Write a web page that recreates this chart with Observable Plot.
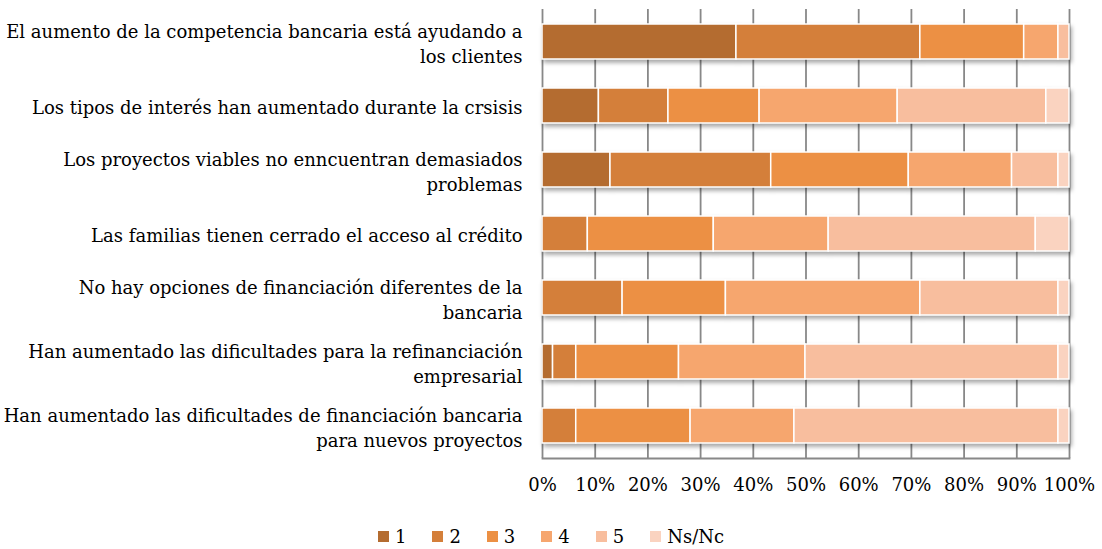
<!DOCTYPE html>
<html>
<head>
<meta charset="utf-8">
<script src="https://cdn.jsdelivr.net/npm/d3@7"></script>
<script src="https://cdn.jsdelivr.net/npm/@observablehq/plot@0.6"></script>
<style>
  html, body { margin: 0; padding: 0; background: #fff; }
  #chart svg { display: block; }
  #legend { margin-top: 20px; }
  #legend .lg-swatches { justify-content: center; font-family: "DejaVu Serif", serif !important; font-size: 18px !important; color: #000; }
  #legend .lg-swatch { margin-right: 26px !important; }
  #legend .lg-swatch:last-child { margin-right: 0 !important; }
  #legend .lg-swatch svg { margin-right: 6px !important; }
</style>
</head>
<body>
<div id="chart"></div>
<div id="legend"></div>
<script>
const categories = [
  "El aumento de la competencia bancaria está ayudando a los clientes",
  "Los tipos de interés han aumentado durante la crsisis",
  "Los proyectos viables no enncuentran demasiados problemas",
  "Las familias tienen cerrado el acceso al crédito",
  "No hay opciones de financiación diferentes de la bancaria",
  "Han aumentado las dificultades para la refinanciación empresarial",
  "Han aumentado las dificultades de financiación bancaria para nuevos proyectos"
];
const tickLabels = [
  "El aumento de la competencia bancaria está ayudando a\nlos clientes",
  "Los tipos de interés han aumentado durante la crsisis",
  "Los proyectos viables no enncuentran demasiados\nproblemas",
  "Las familias tienen cerrado el acceso al crédito",
  "No hay opciones de financiación diferentes de la\nbancaria",
  "Han aumentado las dificultades para la refinanciación\nempresarial",
  "Han aumentado las dificultades de financiación bancaria\npara nuevos proyectos"
];
const seriesNames = ["1", "2", "3", "4", "5", "Ns/Nc"];
const s1  = [36.8, 10.7, 12.9, 0,    0,    2.0,  0];
const s2  = [34.9, 13.2, 30.5, 8.6,  15.2, 4.4,  6.4];
const s3  = [19.7, 17.3, 26.1, 23.9, 19.6, 19.5, 21.7];
const s4  = [6.5,  26.2, 19.6, 21.8, 36.9, 24.0, 19.7];
const s5  = [2.1,  28.2, 8.8,  39.3, 26.2, 48.0, 50.1];
const sNs = [0,    4.4,  2.1,  6.4,  2.1,  2.1,  2.1];
const xTicks = [0, 10, 20, 30, 40, 50, 60, 70, 80, 90, 100];
const colors = ["#b46c30", "#d47f3a", "#ec9044", "#f6a66e", "#f8be9e", "#fad3c0"];

const seriesValues = [s1, s2, s3, s4, s5, sNs];
const data = [];
categories.forEach((c, i) => {
  seriesNames.forEach((s, j) => {
    data.push({category: c, series: s, value: seriesValues[j][i]});
  });
});

const chart = Plot.plot({
  width: 1102,
  height: 500,
  marginLeft: 542,
  marginRight: 33,
  marginTop: 9,
  marginBottom: 42,
  style: {fontFamily: "DejaVu Serif, serif", fontSize: "18px", color: "#000", background: "#fff"},
  x: {domain: [0, 100], label: null},
  y: {domain: categories, paddingInner: 0.45, paddingOuter: 0.225, label: null},
  color: {domain: seriesNames, range: colors, type: "ordinal"},
  marks: [
    Plot.gridX(xTicks, {stroke: "#888", strokeOpacity: 1, strokeWidth: 1.8}),
    Plot.frame({anchor: "bottom", stroke: "#888", strokeWidth: 1.8}),
    Plot.barX(data.filter(d => d.value > 0), Plot.stackX({
      x: "value", y: "category", fill: "series", order: seriesNames,
      stroke: "#fff", strokeWidth: 1.5
    })),
    Plot.axisX(xTicks, {tickSize: 0, tickPadding: 20, tickFormat: d => d + "%", fontSize: 18}),
    Plot.axisY({tickSize: 0, tickPadding: 20, fontSize: 18, lineHeight: 1.39,
      tickFormat: d => tickLabels[categories.indexOf(d)]})
  ]
});
document.getElementById("chart").appendChild(chart);
chart.querySelectorAll('g[aria-label="bar"]').forEach(g => {
  g.style.filter = "drop-shadow(2px 3px 2px rgba(0,0,0,0.35))";
});

const legend = Plot.legend({
  color: {domain: seriesNames, range: colors, type: "ordinal"},
  swatchSize: 11,
  className: "lg"
});
document.getElementById("legend").appendChild(legend);
</script>
</body>
</html>
